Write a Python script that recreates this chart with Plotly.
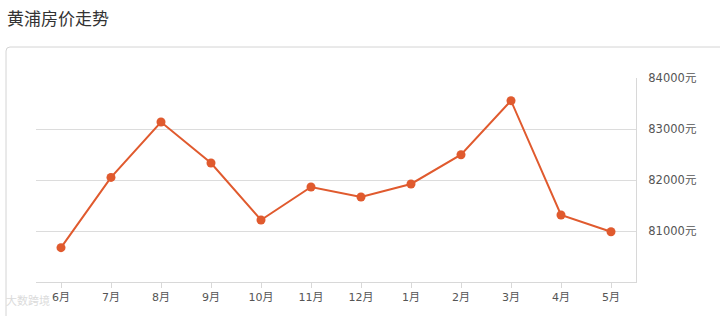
import plotly.graph_objects as go

months = ["6月", "7月", "8月", "9月", "10月", "11月", "12月", "1月", "2月", "3月", "4月", "5月"]
prices = [80673, 82051, 83137, 82333, 81216, 81863, 81667, 81922, 82496, 83555, 81314, 80986]
y_ticks = [81000, 82000, 83000, 84000]
y_tick_labels = ["81000元", "82000元", "83000元", "84000元"]
title_text = "黄浦房价走势"

line_color = "#e05a2e"
font_family = "DejaVu Sans, Noto Sans CJK SC, sans-serif"

fig = go.Figure()
fig.add_trace(go.Scatter(
    x=months, y=prices, mode="lines+markers",
    line=dict(color=line_color, width=2),
    marker=dict(color=line_color, size=9),
    hoverinfo="x+y", showlegend=False,
))

W, H = 720, 316
L, R, T, B = 36, 84, 78, 34
pw, ph = W - L - R, H - T - B

def px(x):
    return (x - L) / pw

def py(y):
    return (H - B - y) / ph

fig.update_layout(
    width=W, height=H,
    margin=dict(l=L, r=R, t=T, b=B),
    paper_bgcolor="white", plot_bgcolor="white",
    font=dict(family=font_family, color="#555", size=11),
    xaxis=dict(
        type="category", range=[-0.5, 11.5],
        showgrid=False, showline=True, linecolor="#d8d8d8", linewidth=1,
        ticks="outside", ticklen=5, tickcolor="#d8d8d8",
        tickfont=dict(size=11, color="#555"), zeroline=False, fixedrange=True,
    ),
    yaxis=dict(
        side="right", range=[80000, 84000],
        tickvals=y_ticks, ticktext=y_tick_labels,
        showgrid=True, gridcolor="#dcdcdc", gridwidth=1,
        showline=True, linecolor="#d8d8d8", linewidth=1,
        ticks="", ticklabelstandoff=9,
        tickfont=dict(size=11.5, color="#555"), zeroline=False, fixedrange=True,
    ),
    shapes=[dict(
        type="path", xref="paper", yref="paper",
        path=f"M {px(6)},{py(330)} L {px(6)},{py(51)} Q {px(6)},{py(47)} {px(10)},{py(47)} L {px(730)},{py(47)}",
        line=dict(color="#d4d4d4", width=1), layer="below",
    )],
    annotations=[
        dict(text=title_text, xref="paper", yref="paper", x=px(5), y=py(18),
             xanchor="left", yanchor="middle", showarrow=False,
             font=dict(size=17, color="#333", family="Noto Sans CJK SC, sans-serif")),
        dict(text="大数跨境", xref="paper", yref="paper", x=px(4), y=py(300),
             xanchor="left", yanchor="middle", showarrow=False, opacity=0.35,
             font=dict(size=11, color="#999", family="Noto Sans CJK SC, sans-serif")),
    ],
)

fig.write_html("out.html")
